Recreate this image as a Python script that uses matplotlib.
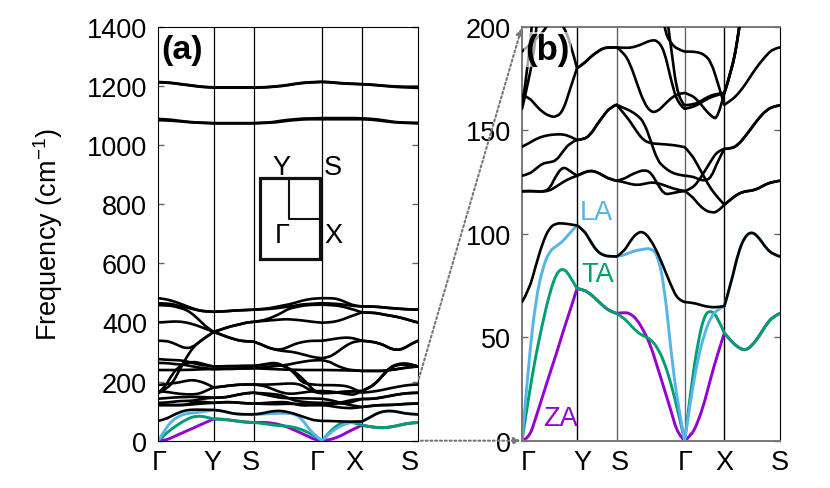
import numpy as np
import matplotlib
matplotlib.use("Agg")
import matplotlib.pyplot as plt
from matplotlib.path import Path
from matplotlib.patches import ConnectionPatch, PathPatch, Rectangle

plt.rcParams['font.family'] = ['Liberation Sans', 'DejaVu Sans']
plt.rcParams['mathtext.fontset'] = 'custom'
plt.rcParams['mathtext.rm'] = 'Liberation Sans'
plt.rcParams['mathtext.default'] = 'rm'

W, H = 830, 489

# k path: G-Y, Y-S, S-G, G-X, X-S
path_ticks = [0, 0.2132, 0.3669, 0.6305, 0.7842, 1.0]
path_steps = [8, 6, 10, 6, 8]
tick_names = ['Γ', 'Y', 'S', 'Γ', 'X', 'S']
yticks_a = [0, 200, 400, 600, 800, 1000, 1200, 1400]
yticks_b = [0, 50, 100, 150, 200]

# acoustic branches (cm-1)
za = [0, 1, 11, 21.5, 32, 42, 53, 63, 73.5,
      73, 71, 68, 65, 62.5, 61.5,
      62, 61.5, 58.5, 53, 46, 35.5, 25, 14.3, 3, 0,
      2.4, 9, 18.5, 31, 42, 52,
      48, 45, 43.5, 46, 50.5, 56, 60, 61.5]
ta = [0, 22, 41, 57, 71, 81, 83.5, 79.5, 73.5,
      73, 71, 68, 65, 62.5, 61.5,
      59.5, 56, 52.5, 50.5, 49, 45, 38, 27.5, 14.5, 0,
      26.5, 47.5, 61, 63, 59.5, 52,
      48, 45, 43.5, 46, 50.5, 56, 60, 61.5]
la = [0, 39, 68, 83.5, 91.6, 94, 96.5, 100.5, 104,
      102, 96.5, 91.6, 89.5, 89, 89,
      89.5, 91, 92, 92.5, 93, 90, 75, 42.6, 17, 0,
      22, 39.5, 52, 60, 63.5, 65,
      76.5, 91, 99, 101, 98, 93, 90, 89]

# optical branches
op1 = [67, 72.5, 84.5, 95.7, 103, 105, 105, 104.5, 104,
       102, 96.5, 91.6, 89.5, 89, 89,
       91, 96.5, 100.5, 101, 97, 91, 83, 75, 68, 67,
       66.7, 66, 65, 64.5, 64.5, 65,
       76.5, 91, 99, 101, 98, 93, 90, 89]
op2 = [120.5, 120.6, 120.5, 120.3, 120.8, 122.8, 125, 126.8, 128,
       129.5, 130.5, 129.8, 128, 126.3, 125.6,
       125, 124, 123.5, 124, 124.8, 124.5, 123.4, 122.2, 121.2, 120.6,
       118.5, 114.5, 111.5, 110.2, 110.5, 114,
       116.8, 119.3, 120.5, 120.8, 122, 124, 125, 125.6]
op3 = [120.5, 120.6, 120.5, 120.3, 121.5, 128.5, 132.5, 130.2, 128,
       129.5, 130.5, 129.8, 128, 126.3, 125.6,
       126.3, 128.3, 129.7, 130.8, 129.8, 124, 119, 119.4, 120.2, 120.6,
       121.6, 125, 130, 135.3, 140, 141,
       141, 143, 147, 151.5, 156, 159.5, 161.5, 162]
op4 = [128, 128.7, 131.3, 134, 134.5, 135.3, 140, 143.9, 145.3,
       145.5, 147.7, 152.6, 157, 161, 162.3,
       160.8, 159.4, 157.3, 154, 145, 135.3, 132, 129.7, 128.5, 128,
       127.8, 126.5, 125.5, 127, 135, 141,
       141, 143, 147, 151.5, 156, 159.5, 161.5, 162]
op5 = [142, 143.7, 145.7, 147, 147.7, 148, 148, 147, 145.3,
       145.5, 147.7, 152.6, 157, 161, 162.3,
       158.3, 154.2, 149, 145, 143.7, 143.4, 143.2, 142.9, 142.5, 141.8,
       138.5, 133, 127, 121.5, 117.5, 114,
       116.8, 119.3, 120.5, 120.8, 122, 124, 125, 125.6]
op6 = [167, 166, 162, 158.7, 156.8, 156.3, 159.5, 170, 180,
       182, 185.3, 187.7, 189.7, 190, 190,
       187.7, 182, 172.4, 163.5, 158.7, 159, 162.3, 165.5, 167.6, 168,
       167, 164.4, 160.3, 156.8, 155, 168,
       178, 195, 222, 248, 259, 262, 259, 251]
op7 = [188, 191, 194, 197, 202.5, 205.5, 200.5, 192.6, 180,
       182, 185.3, 187.7, 189.7, 190, 190,
       189.8, 189.8, 190.6, 192, 193.4, 193.4, 188.5, 174, 162.7, 160.3,
       161, 162.3, 164.4, 166, 167, 168,
       178, 195, 221, 246, 256, 258, 255, 251]
op8 = [162, 182, 225, 251, 262, 267, 263, 256, 251,
       251.5, 252, 252, 252.5, 253, 253,
       255, 258, 260, 255, 247, 233, 214, 190, 165, 162,
       162.3, 163.2, 165.2, 166.8, 167.6, 168,
       178, 195, 222, 247, 257, 260, 257, 251]
op9 = [276, 274, 273, 272, 269, 262.6, 257, 254, 251,
       251.5, 252, 252, 252.5, 253, 253,
       256, 260, 264, 258, 246, 228, 198, 191.8, 189, 188,
       188, 187.7, 186.5, 183, 173, 162.3,
       164.4, 167.6, 172, 177.3, 182, 186, 189.4, 190]
op10 = [263, 263, 260, 258, 256, 251, 247, 244.6, 242,
        242.5, 243, 243, 244, 244.5, 245,
        247, 249, 252, 254, 257, 262, 266, 270, 272, 272,
        269, 256, 247, 240, 238, 236,
        236, 236, 236, 239, 242, 246, 249, 251]
op11 = [239, 239, 239, 239, 239.5, 240, 241, 242, 242,
        242.5, 243, 243, 244, 244.5, 245,
        244, 243, 242, 241, 240, 240, 239, 239, 239, 239,
        239, 238.5, 238, 237.5, 237, 236,
        236, 236, 236, 239, 242, 246, 249, 251]
op12 = [160.3, 174, 193, 236, 279, 315, 336, 352, 368,
        360, 351, 344, 338, 336, 335,
        327, 316, 309, 304, 302, 299, 293, 287, 281, 279,
        282, 295, 312, 327, 336, 338,
        336, 332, 325, 312, 306, 312, 327, 338]
op13 = [338, 338, 332, 321, 312, 317, 335, 352, 368,
        360, 351, 344, 338, 336, 335,
        327, 316, 309, 308, 316, 327, 333, 337, 338, 338,
        341, 345, 348, 349, 345, 338,
        336, 332, 325, 312, 306, 312, 327, 338]
op14 = [400, 401, 403, 403, 400, 394, 386, 377, 368,
        375, 383, 389, 394, 400, 402,
        404, 406, 408, 410, 411, 409, 407, 404, 401, 399,
        400, 403, 409, 418, 426, 434,
        433, 432, 427, 423, 419, 413, 406, 400]
op15 = [458.6, 457.5, 456, 450, 443, 428, 406, 383, 368,
        375, 383, 389, 394, 400, 402,
        405, 411, 420, 431, 445, 451, 456, 458.6, 459.7, 460,
        458.6, 457.5, 454, 448, 441.7, 434,
        433, 432, 427, 423, 419, 413, 406, 400]
op16 = [465, 464, 462, 456, 451, 445, 439.5, 437, 436,
        437, 438, 440, 441, 442, 443,
        444, 445, 447, 450, 453, 456, 461, 462, 464, 465,
        464, 463, 461, 458, 455, 454,
        454, 453, 451, 448.5, 447, 445, 444, 443]
op17 = [482, 479, 473, 465, 456, 447, 440, 437, 436,
        437, 438, 440, 441, 442, 443,
        445, 447, 451, 456, 460, 466, 473, 478, 481, 482,
        482, 481, 474, 464, 456, 454,
        454, 453, 451, 448.5, 447, 445, 444, 443]
# the two high frequency groups
op18 = [1088, 1087, 1085, 1082, 1079, 1077, 1076, 1075, 1074,
        1074, 1074, 1074, 1074, 1074, 1074,
        1075, 1076, 1078, 1082, 1085, 1087, 1089, 1090, 1090, 1091,
        1091, 1091, 1091, 1091, 1091, 1090,
        1089, 1087, 1084, 1080, 1077, 1076, 1075, 1075]
op19 = [1084, 1083, 1082, 1080, 1078, 1076, 1075, 1074, 1073,
        1073, 1073, 1073, 1073, 1073, 1073,
        1074, 1075, 1076, 1079, 1082, 1084, 1086, 1087, 1087, 1087,
        1087, 1087, 1087, 1087, 1087, 1087,
        1086, 1084, 1081, 1078, 1076, 1075, 1074, 1073]
op20 = [1213, 1212, 1210, 1207, 1204, 1201, 1198, 1196, 1195,
        1195, 1195, 1195, 1195, 1195, 1195,
        1195, 1196, 1198, 1200, 1203, 1207, 1210, 1212, 1213, 1214,
        1213, 1211, 1209, 1208, 1207, 1206,
        1205, 1203, 1201, 1199, 1198, 1197, 1197, 1197]
op21 = [1212, 1211, 1209, 1206, 1203, 1200, 1197, 1195, 1194,
        1194, 1194, 1194, 1194, 1194, 1194,
        1194, 1195, 1197, 1199, 1202, 1206, 1209, 1211, 1212, 1213,
        1212, 1210, 1208, 1207, 1206, 1205,
        1204, 1202, 1200, 1198, 1196, 1195, 1194, 1193]
optical = [op1, op2, op3, op4, op5, op6, op7, op8, op9, op10, op11,
           op12, op13, op14, op15, op16, op17, op18, op19, op20, op21]

q = np.concatenate([[0.0]] + [np.linspace(path_ticks[i], path_ticks[i + 1], n + 1)[1:]
                              for i, n in enumerate(path_steps)])

ZA_COLOR = '#9400D3'
TA_COLOR = '#009E73'
LA_COLOR = '#56B4E9'


def px_box(left, top, right, bottom):
    return [left / W, 1 - bottom / H, (right - left) / W, (bottom - top) / H]


def band_path(values):
    # read points are the control points of a bezier chain, broken at the symmetry points
    verts, codes = [(q[0], values[0])], [Path.MOVETO]
    start = 0
    for n in path_steps:
        for i in range(start + 1, start + n):
            verts.append((q[i], values[i]))
            codes.append(Path.CURVE3)
            if i < start + n - 1:
                verts.append(((q[i] + q[i + 1]) / 2, (values[i] + values[i + 1]) / 2))
            else:
                verts.append((q[i + 1], values[i + 1]))
            codes.append(Path.CURVE3)
        start += n
    return Path(verts, codes)


def draw_band(ax, values, color, lw, z):
    ax.add_patch(PathPatch(band_path(values), fill=False, edgecolor=color, lw=lw,
                           capstyle='round', joinstyle='round', zorder=z))


fig = plt.figure(figsize=(W / 100, H / 100), dpi=100)
ax_a = fig.add_axes(px_box(158.3, 27.7, 418, 441.7))
ax_b = fig.add_axes(px_box(522, 27.7, 780, 441.7))

for ax in (ax_a, ax_b):
    draw_band(ax, za, ZA_COLOR, 2.1, 2)
    draw_band(ax, ta, TA_COLOR, 2.1, 2.2)
    draw_band(ax, la, LA_COLOR, 2.1, 2.4)
    for band in optical:
        draw_band(ax, band, 'black', 1.9, 3)
    ax.set_xlim(0, 1)

ax_a.set_ylim(0, 1400)
ax_a.set_yticks(yticks_a)
ax_a.set_xticks([0.003, 0.21, 0.357, 0.613, 0.757, 0.968], tick_names)
ax_a.set_ylabel('Frequency (cm$^{-1}$)', fontsize=19.5, labelpad=16)
for x in path_ticks[1:-1]:
    ax_a.axvline(x, color='black', lw=0.9, zorder=1)

ax_b.set_ylim(0, 200)
ax_b.set_yticks(yticks_b)
ax_b.set_xticks([0.023, 0.235, 0.381, 0.634, 0.786, 1.0], tick_names)
for x, c in zip(path_ticks[1:-1], ['black', '#666666', '#666666', 'black']):
    ax_b.axvline(x, color=c, lw=1.0, zorder=1)
ax_b.spines['left'].set(color='#777777', linewidth=1.4)
ax_b.spines['bottom'].set(color='#777777', linewidth=1.4)
ax_b.spines['top'].set(color='#777777', linewidth=1.4)

for ax in (ax_a, ax_b):
    ax.tick_params(axis='y', direction='in', left=True, right=True, length=4.5,
                   width=1, color='#666666', labelsize=19.5, pad=8)
    ax.tick_params(axis='x', length=0, labelsize=19.5, pad=6)

ax_a.text(0.012, 0.945, '(a)', transform=ax_a.transAxes, fontsize=24.5,
          fontweight='bold', va='center', zorder=5)
ax_b.text(0.012, 0.945, '(b)', transform=ax_b.transAxes, fontsize=25,
          fontweight='bold', va='center', zorder=5,
          bbox=dict(facecolor='white', edgecolor='none', alpha=0.65, pad=1))

# branch labels
for name, color, px, py in [('LA', LA_COLOR, 580, 220), ('TA', TA_COLOR, 581, 282),
                            ('ZA', ZA_COLOR, 543, 426)]:
    fig.text(px / W, 1 - py / H, name, color=color, fontsize=19.5, va='baseline', zorder=6)

# brillouin zone sketch
fig.add_artist(Rectangle((259.5 / W, 1 - 260 / H), 60 / W, 81 / H, fill=False,
                         edgecolor='#111111', lw=2.3, transform=fig.transFigure))
fig.add_artist(plt.Line2D([289 / W, 289 / W, 319 / W],
                          [1 - 179 / H, 1 - 219.5 / H, 1 - 219.5 / H],
                          color='#111111', lw=1.5, transform=fig.transFigure))
for name, px, py in [('Y', 272, 175), ('S', 324, 175), ('X', 324, 243), ('Γ', 275, 243)]:
    fig.text(px / W, 1 - py / H, name, fontsize=19.5, va='baseline', ha='left')

# dotted zoom arrows between the panels
for y_a, y_b in [(200, 200), (0, 0)]:
    arrow = ConnectionPatch(xyA=(1, y_a), coordsA=ax_a.transData,
                            xyB=(0, y_b), coordsB=ax_b.transData,
                            arrowstyle='-|>', linestyle=(0, (1, 1.3)), lw=1.5,
                            color='#777777', mutation_scale=10, shrinkA=2, shrinkB=1)
    fig.add_artist(arrow)

fig.savefig('out.png', dpi=100)
